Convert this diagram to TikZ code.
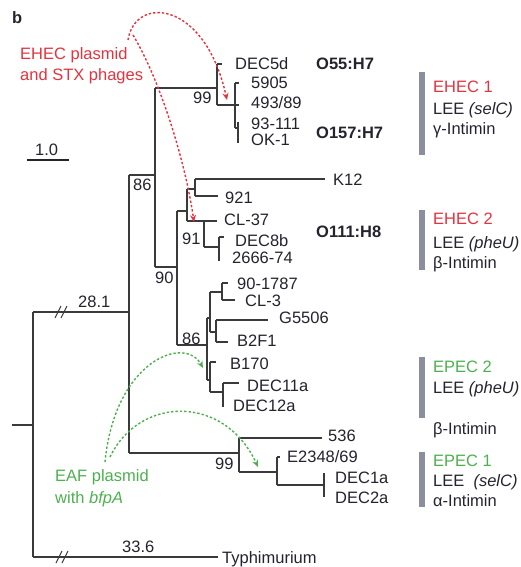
\documentclass[tikz,border=0pt]{standalone}
\usepackage{fontspec}
\setmainfont{Liberation Sans}
\usetikzlibrary{arrows.meta}
\definecolor{ink}{HTML}{24232E}
\definecolor{tree}{HTML}{3A3A3A}
\definecolor{ehec}{HTML}{E2333F}
\definecolor{epec}{HTML}{4DB04F}
\definecolor{barc}{HTML}{8B8E9F}
\begin{document}
\begin{tikzpicture}[x=1pt,y=-1pt,
  br/.style={draw=tree, line width=1.3pt},
  lbl/.style={anchor=base west, inner sep=0pt, font=\fontsize{16.5}{19}\selectfont, text=ink},
  blbl/.style={lbl, font=\fontsize{16.5}{19}\selectfont\bfseries},
  rlbl/.style={lbl, text=ehec},
  glbl/.style={lbl, text=epec},
  groupbar/.style={draw=barc, line width=6pt},
  redarrow/.style={draw=ehec, line width=1.4pt, dash pattern=on 2.4pt off 2pt, -{Stealth[length=7pt,width=6pt]}},
  greenarrow/.style={draw=epec, line width=1.4pt, dash pattern=on 2.4pt off 2pt, -{Stealth[length=7pt,width=6pt]}},
  slash/.style={draw=tree, line width=1.1pt}]
\useasboundingbox (0,0) rectangle (520,567);

% ---------- tree ----------
% root
\draw[br] (12,425) -- (33,425);
\draw[br] (33,312) -- (33,557);
\draw[br] (33,312) -- (129,312);
\draw[br] (33,557) -- (218,557);
% break marks
\draw[slash] (55,318) -- (61,306) (61,318) -- (67,306);
\draw[slash] (56,563) -- (62,551) (62,563) -- (68,551);
% main E. coli node
\draw[br] (129,175) -- (129,453);
\draw[br] (129,175) -- (155,175);
\draw[br] (129,453) -- (239,453);
% node 86
\draw[br] (155,88) -- (155,267);
\draw[br] (155,88) -- (217,88);
\draw[br] (155,267) -- (177,267);
% EHEC 1 clade
\draw[br] (217,64) -- (217,105);
\draw[br] (217,64) -- (222,64);
\draw[br] (217,105) -- (239,105);
\draw[br] (235,83) -- (235,128);
\draw[br] (235,83) -- (239,83);
\draw[br] (235,128) -- (238,128);
\draw[br] (238,122) -- (238,143);
% node 90
\draw[br] (177,211) -- (177,345);
\draw[br] (177,211) -- (187,211);
\draw[br] (187,189) -- (187,221);
\draw[br] (187,189) -- (195,189);
\draw[br] (195,179) -- (195,196);
\draw[br] (195,179) -- (325,179);
\draw[br] (195,196) -- (218,196);
% node 91
\draw[br] (187,221) -- (217,221);
\draw[br] (204,221) -- (204,247);
\draw[br] (204,247) -- (219,247);
\draw[br] (219,237) -- (219,261);
\draw[br] (219,237) -- (224,237);
% lower node 86
\draw[br] (177,345) -- (207,345);
\draw[br] (207,318) -- (207,380);
\draw[br] (207,318) -- (210,318);
\draw[br] (207,380) -- (210,380);
\draw[br] (210,292) -- (210,332);
\draw[br] (210,292) -- (222,292);
\draw[br] (222,283) -- (222,300);
\draw[br] (222,283) -- (228,283);
\draw[br] (222,300) -- (235,300);
\draw[br] (210,332) -- (216,332);
\draw[br] (216,320) -- (216,342);
\draw[br] (216,320) -- (268,320);
\draw[br] (216,342) -- (228,342);
\draw[br] (210,362) -- (210,392);
\draw[br] (210,362) -- (216,362);
\draw[br] (210,392) -- (223,392);
\draw[br] (223,383) -- (223,407);
\draw[br] (223,383) -- (239,383);
% EPEC 1 clade
\draw[br] (239,438) -- (239,472);
\draw[br] (239,438) -- (322,438);
\draw[br] (239,472) -- (277,472);
\draw[br] (277,457) -- (277,485);
\draw[br] (277,457) -- (280,457);
\draw[br] (277,485) -- (324,485);
\draw[br] (324,473) -- (324,497);

% scale bar
\node[lbl] (scale) at (35,155) {1.0};
\draw[br, draw=ink] (27,160) -- (69,160);

% ---------- labels ----------
\node[lbl, font=\fontsize{16.5}{19}\selectfont\bfseries] (panel) at (12,24) {b};

\node[lbl] (dec5d) at (235,70) {DEC5d};
\node[lbl] (l5905) at (251,89) {5905};
\node[lbl] (l493) at (251,109) {493/89};
\node[lbl] (l93) at (251,129) {93-111};
\node[lbl] (ok1) at (251,146) {OK-1};
\node[blbl] (o55) at (316,70) {O55:H7};
\node[blbl] (o157) at (316,139) {O157:H7};

\node[lbl] (k12) at (333,185) {K12};
\node[lbl] (l921) at (225,203) {921};
\node[lbl] (cl37) at (224,225) {CL-37};
\node[lbl] (dec8b) at (235,246) {DEC8b};
\node[lbl] (l2666) at (232,263) {2666-74};
\node[blbl] (o111) at (316,237) {O111:H8};

\node[lbl] (l901787) at (237,289) {90-1787};
\node[lbl] (cl3) at (245,306) {CL-3};
\node[lbl] (g5506) at (279,323) {G5506};
\node[lbl] (b2f1) at (237,346) {B2F1};
\node[lbl] (b170) at (230,369) {B170};
\node[lbl] (dec11a) at (247,391) {DEC11a};
\node[lbl] (dec12a) at (233,411) {DEC12a};

\node[lbl] (l536) at (328,441) {536};
\node[lbl] (e2348) at (287,462) {E2348/69};
\node[lbl] (dec1a) at (335,483) {DEC1a};
\node[lbl] (dec2a) at (335,503) {DEC2a};

\node[lbl] (typh) at (222,563) {Typhimurium};
\node[lbl] (b336) at (122,552) {33.6};
\node[lbl] (b281) at (78,307) {28.1};

% bootstrap values
\node[lbl] (bs99a) at (193,104) {99};
\node[lbl] (bs86a) at (133,190) {86};
\node[lbl] (bs90) at (155,283) {90};
\node[lbl] (bs91) at (182,244) {91};
\node[lbl] (bs86b) at (182,344) {86};
\node[lbl] (bs99b) at (215,469) {99};

% group bars and annotations
\draw[groupbar] (422,72) -- (422,155);
\draw[groupbar] (422,210) -- (422,270);
\draw[groupbar] (422,357) -- (422,418);
\draw[groupbar] (422,452) -- (422,507);

\node[rlbl] (ehec1) at (433,93) {EHEC 1};
\node[lbl] (lee1) at (433,114) {LEE \textit{(selC)}};
\node[lbl] (int1) at (433,135) {γ-Intimin};

\node[rlbl] (ehec2) at (433,224) {EHEC 2};
\node[lbl] (lee2) at (433,248) {LEE \textit{(pheU)}};
\node[lbl] (int2) at (433,268) {β-Intimin};

\node[glbl] (epec2) at (433,372) {EPEC 2};
\node[lbl] (lee3) at (433,393) {LEE \textit{(pheU)}};
\node[lbl] (int3) at (433,434) {β-Intimin};

\node[glbl] (epec1) at (433,466) {EPEC 1};
\node[lbl] (lee4) at (433,486) {LEE\ \ \textit{(selC)}};
\node[lbl] (int4) at (433,506) {α-Intimin};

% transfer annotations
\node[rlbl] (ehecp1) at (20,60) {EHEC plasmid};
\node[rlbl] (ehecp2) at (20,81) {and STX phages};
\node[glbl] (eaf1) at (55,481) {EAF plasmid};
\node[glbl] (eaf2) at (55,503) {with \textit{bfpA}};

\coordinate (rs1) at (128,40);
\coordinate (rs2) at (133,35);
\coordinate (re1) at (227,100);
\coordinate (re2) at (194,222);
\coordinate (gs1) at (105,462);
\coordinate (gs2) at (110,457);
\coordinate (ge1) at (203,368);
\coordinate (ge2) at (258,467);

\draw[redarrow] (rs1) .. controls (135,-5) and (205,0) .. (re1);
\draw[redarrow] (rs2) .. controls (160,80) and (185,160) .. (re2);
\draw[greenarrow] (gs1) .. controls (115,360) and (185,335) .. (ge1);
\draw[greenarrow] (gs2) .. controls (140,395) and (225,395) .. (ge2);
\end{tikzpicture}
\end{document}
